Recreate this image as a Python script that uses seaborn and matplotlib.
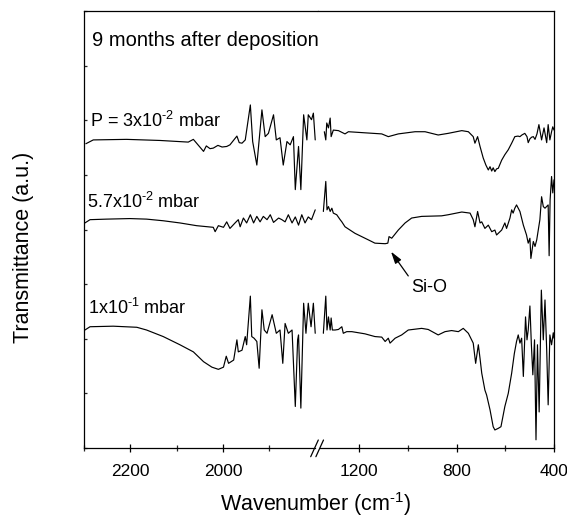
import matplotlib
matplotlib.use("Agg")
import matplotlib.pyplot as plt
from matplotlib.lines import Line2D
import seaborn as sns

sns.set_style("ticks")
plt.rcParams["font.family"] = ["Liberation Sans", "DejaVu Sans"]
plt.rcParams["mathtext.default"] = "regular"

# ---- spectra: wavenumber (cm-1) and transmittance (a.u., stacked) ----
# P = 3x10^-2 mbar
p3_left_wn = [2296, 2280, 2208, 2136, 2075, 2064, 2058, 2042, 2036, 2028, 2021, 2011,
              2002, 1992, 1985, 1970, 1965, 1959, 1952, 1941, 1936, 1927, 1916, 1909,
              1902, 1891, 1885, 1877, 1870, 1862, 1855, 1848, 1844, 1837, 1832, 1826,
              1819, 1816, 1809, 1805, 1801]
p3_left_t = [5.57, 5.64, 5.65, 5.63, 5.60, 5.65, 5.59, 5.43, 5.53, 5.48, 5.49, 5.54,
             5.51, 5.52, 5.55, 5.71, 5.59, 5.58, 5.64, 6.28, 5.61, 5.18, 6.19, 5.70,
             5.76, 6.10, 5.64, 5.68, 5.18, 5.61, 5.55, 5.70, 4.73, 5.52, 4.73, 6.10,
             5.64, 6.10, 6.01, 6.13, 5.64]
p3_right_wn = [1344, 1338, 1334, 1327, 1320, 1316, 1307, 1286, 1259, 1245, 1177, 1108,
               1081, 1040, 971, 930, 876, 835, 779, 752, 732, 725, 714, 704, 691, 680,
               670, 663, 656, 650, 643, 636, 629, 615, 602, 588, 574, 561, 548, 540,
               532, 520, 511, 506, 499, 492, 485, 478, 470, 462, 451, 441, 430, 424,
               417, 410, 405, 400]
p3_right_t = [5.79, 5.64, 5.95, 5.86, 6.04, 5.70, 5.82, 5.81, 5.75, 5.79, 5.77, 5.75,
              5.70, 5.75, 5.79, 5.79, 5.73, 5.76, 5.81, 5.79, 5.70, 5.58, 5.70, 5.52,
              5.31, 5.18, 5.09, 5.15, 5.07, 5.13, 5.06, 5.11, 5.12, 5.27, 5.37, 5.46,
              5.58, 5.70, 5.71, 5.70, 5.73, 5.76, 5.70, 5.59, 5.66, 5.69, 5.70, 5.65,
              5.75, 5.92, 5.64, 5.86, 5.59, 5.92, 5.64, 5.79, 5.88, 5.82]

# 5.7x10^-2 mbar
p57_left_wn = [2298, 2287, 2251, 2201, 2165, 2129, 2093, 2057, 2021, 2017, 2010, 1999,
               1992, 1985, 1974, 1967, 1963, 1956, 1949, 1941, 1934, 1927, 1920, 1913,
               1905, 1898, 1891, 1880, 1873, 1866, 1859, 1851, 1844, 1837, 1830, 1823,
               1816, 1809, 1801]
p57_left_t = [4.12, 4.18, 4.19, 4.20, 4.19, 4.16, 4.12, 4.07, 4.04, 3.96, 4.07, 4.04,
              4.14, 4.02, 4.12, 4.18, 4.05, 4.21, 4.12, 4.27, 4.12, 4.24, 4.14, 4.24,
              4.18, 4.27, 4.13, 4.21, 4.18, 4.14, 4.27, 4.12, 4.23, 4.08, 4.27, 4.12,
              4.23, 4.18, 4.36]
p57_right_wn = [1348, 1338, 1333, 1327, 1320, 1313, 1307, 1293, 1279, 1272, 1259, 1218,
                1163, 1136, 1094, 1083, 1078, 1067, 1040, 1012, 985, 944, 862, 835, 779,
                745, 732, 725, 714, 704, 697, 684, 670, 656, 643, 636, 615, 602, 595,
                581, 574, 568, 561, 554, 540, 526, 513, 506, 499, 495, 485, 478, 471,
                458, 451, 444, 437, 424, 420, 416, 410, 405, 400]
p57_right_t = [4.33, 4.88, 4.36, 4.42, 4.33, 4.39, 4.30, 4.27, 4.18, 4.14, 4.05, 3.93,
               3.81, 3.75, 3.74, 3.75, 3.87, 3.84, 3.99, 4.12, 4.21, 4.24, 4.25, 4.27,
               4.32, 4.30, 4.18, 4.05, 4.33, 4.12, 4.14, 4.02, 4.08, 3.96, 3.99, 3.90,
               3.99, 4.12, 4.02, 4.21, 4.36, 4.30, 4.39, 4.45, 4.33, 4.08, 3.90, 3.75,
               3.84, 3.47, 3.78, 3.69, 3.81, 4.18, 4.60, 4.42, 4.39, 4.45, 3.52, 4.54,
               4.97, 4.67, 4.91]

# 1x10^-1 mbar
p10_left_wn = [2298, 2287, 2237, 2186, 2165, 2129, 2093, 2064, 2042, 2024, 2010, 1999,
               1993, 1988, 1977, 1970, 1967, 1959, 1952, 1949, 1941, 1938, 1933, 1927,
               1922, 1916, 1911, 1905, 1894, 1885, 1877, 1871, 1866, 1859, 1851, 1844,
               1839, 1837, 1832, 1826, 1821, 1816, 1810, 1805, 1801]
p10_left_t = [2.16, 2.22, 2.23, 2.21, 2.16, 2.04, 1.89, 1.76, 1.58, 1.48, 1.44, 1.48,
              1.68, 1.55, 1.61, 1.98, 1.76, 1.79, 2.04, 1.89, 2.78, 2.04, 2.01, 1.95,
              1.46, 2.53, 2.16, 2.10, 2.44, 2.10, 2.16, 1.55, 2.28, 2.10, 2.16, 0.76,
              1.98, 2.07, 0.73, 2.65, 2.10, 2.65, 2.22, 2.65, 2.10]
p10_right_wn = [1348, 1338, 1333, 1327, 1320, 1316, 1311, 1300, 1286, 1272, 1266, 1252,
                1231, 1177, 1136, 1108, 1094, 1081, 1074, 1053, 1026, 999, 944, 917,
                876, 848, 821, 793, 773, 752, 732, 722, 711, 704, 697, 684, 677, 663,
                650, 643, 629, 618, 602, 588, 574, 563, 554, 547, 540, 533, 526, 517,
                511, 506, 499, 493, 487, 480, 474, 468, 461, 452, 444, 437, 430, 424,
                417, 410, 403, 400]
p10_right_t = [2.10, 2.78, 2.16, 2.40, 2.16, 2.38, 2.16, 2.16, 2.17, 2.22, 2.10, 2.13,
               2.13, 2.09, 2.04, 2.03, 1.95, 2.01, 1.92, 2.01, 2.07, 2.16, 2.19, 2.17,
               2.07, 2.13, 2.15, 2.13, 2.19, 2.10, 1.92, 1.55, 1.89, 1.64, 1.37, 1.06,
               0.97, 0.70, 0.39, 0.33, 0.36, 0.39, 0.76, 1.00, 1.37, 1.73, 1.95, 2.07,
               1.92, 2.01, 1.31, 2.40, 1.98, 2.16, 2.60, 1.89, 1.34, 1.98, 0.15, 1.89,
               0.66, 2.89, 1.98, 2.71, 1.79, 0.79, 2.07, 1.89, 2.11, 2.01]

left_major = [2200, 2000]
left_minor = [2300, 2100, 1900]
right_major = [1200, 800, 400]
right_minor = [1000, 600]

# ---- figure layout (pixel based) ----
W, H = 567, 522
fig = plt.figure(figsize=(W / 100, H / 100), dpi=100)


def fx(px):
    return px / W


def fy(py):
    return 1 - py / H


x0, xb, x1 = 84, 318, 554
ytop, ybot = 11, 448
axL = fig.add_axes([fx(x0), fy(ybot), fx(xb) - fx(x0), fy(ytop) - fy(ybot)])
axR = fig.add_axes([fx(xb), fy(ybot), fx(x1) - fx(xb), fy(ytop) - fy(ybot)])

line_kw = dict(color="black", linewidth=0.85, estimator=None, sort=False, legend=False)
for wn, t in [(p3_left_wn, p3_left_t), (p57_left_wn, p57_left_t), (p10_left_wn, p10_left_t)]:
    sns.lineplot(x=wn, y=t, ax=axL, **line_kw)
for wn, t in [(p3_right_wn, p3_right_t), (p57_right_wn, p57_right_t), (p10_right_wn, p10_right_t)]:
    sns.lineplot(x=wn, y=t, ax=axR, **line_kw)

axL.set_xlim(2300, 1795)
axR.set_xlim(1370, 400)
for ax in (axL, axR):
    ax.set_ylim(0, 8)
    ax.set_xlabel("")
    ax.set_ylabel("")
    for s in ax.spines.values():
        s.set_linewidth(0.9)
        s.set_color("black")

axL.spines["right"].set_visible(False)
axR.spines["left"].set_visible(False)
axL.spines["bottom"].set_bounds(1802, 2300)
axR.spines["bottom"].set_bounds(400, 1363)

axL.set_xticks(left_major)
axL.set_xticks(left_minor, minor=True)
axR.set_xticks(right_major)
axR.set_xticks(right_minor, minor=True)
axL.set_yticks(range(0, 9))
axL.set_yticklabels([])
axR.set_yticks([])

for ax in (axL, axR):
    ax.tick_params(axis="x", which="major", direction="inout", length=6.0, width=0.9,
                   labelsize=12.5, pad=8.5, colors="black")
    ax.tick_params(axis="x", which="minor", direction="inout", length=4.3, width=0.9)
axL.tick_params(axis="y", which="major", direction="in", length=2.5, width=0.9)

# break marks on the bottom axis
for cx in (314.5, 319.7):
    xs = [fx(cx - 3.8), fx(cx + 3.8)]
    ys = [fy(456.7), fy(440)]
    fig.add_artist(Line2D(xs, ys, color="black", linewidth=0.9))

# text labels (superscripts use a plain hyphen)
HY = "\u2010"
txt = dict(color="black", va="baseline", ha="left")
axL.text(2283, 7.353, "9 months after deposition", fontsize=14.5, **txt)
axL.text(2287, 5.874, "P = 3x10$^{" + HY + "2}$ mbar", fontsize=13, **txt)
axL.text(2293, 4.39, "5.7x10$^{" + HY + "2}$ mbar", fontsize=13, **txt)
axL.text(2291, 2.454, "1x10$^{" + HY + "1}$ mbar", fontsize=13, **txt)
axR.text(911, 2.863, "Si-O", fontsize=13, color="black", va="baseline", ha="center")
axR.annotate("", xy=(1070, 3.595), xytext=(999, 3.15),
             arrowprops=dict(arrowstyle="-|>,head_length=0.6,head_width=0.18",
                             color="black", lw=0.9, shrinkA=0, shrinkB=0,
                             mutation_scale=12))

fig.text(fx(315.5), fy(510.5), "Wavenumber (cm$^{" + HY + "1}$)", fontsize=15.5,
         ha="center", va="baseline", color="black")
fig.text(fx(23.5), fy(247.5), "Transmittance (a.u.)", fontsize=15.5,
         rotation=90, ha="center", va="center", color="black")

fig.savefig("out.png", dpi=100, facecolor="white")
